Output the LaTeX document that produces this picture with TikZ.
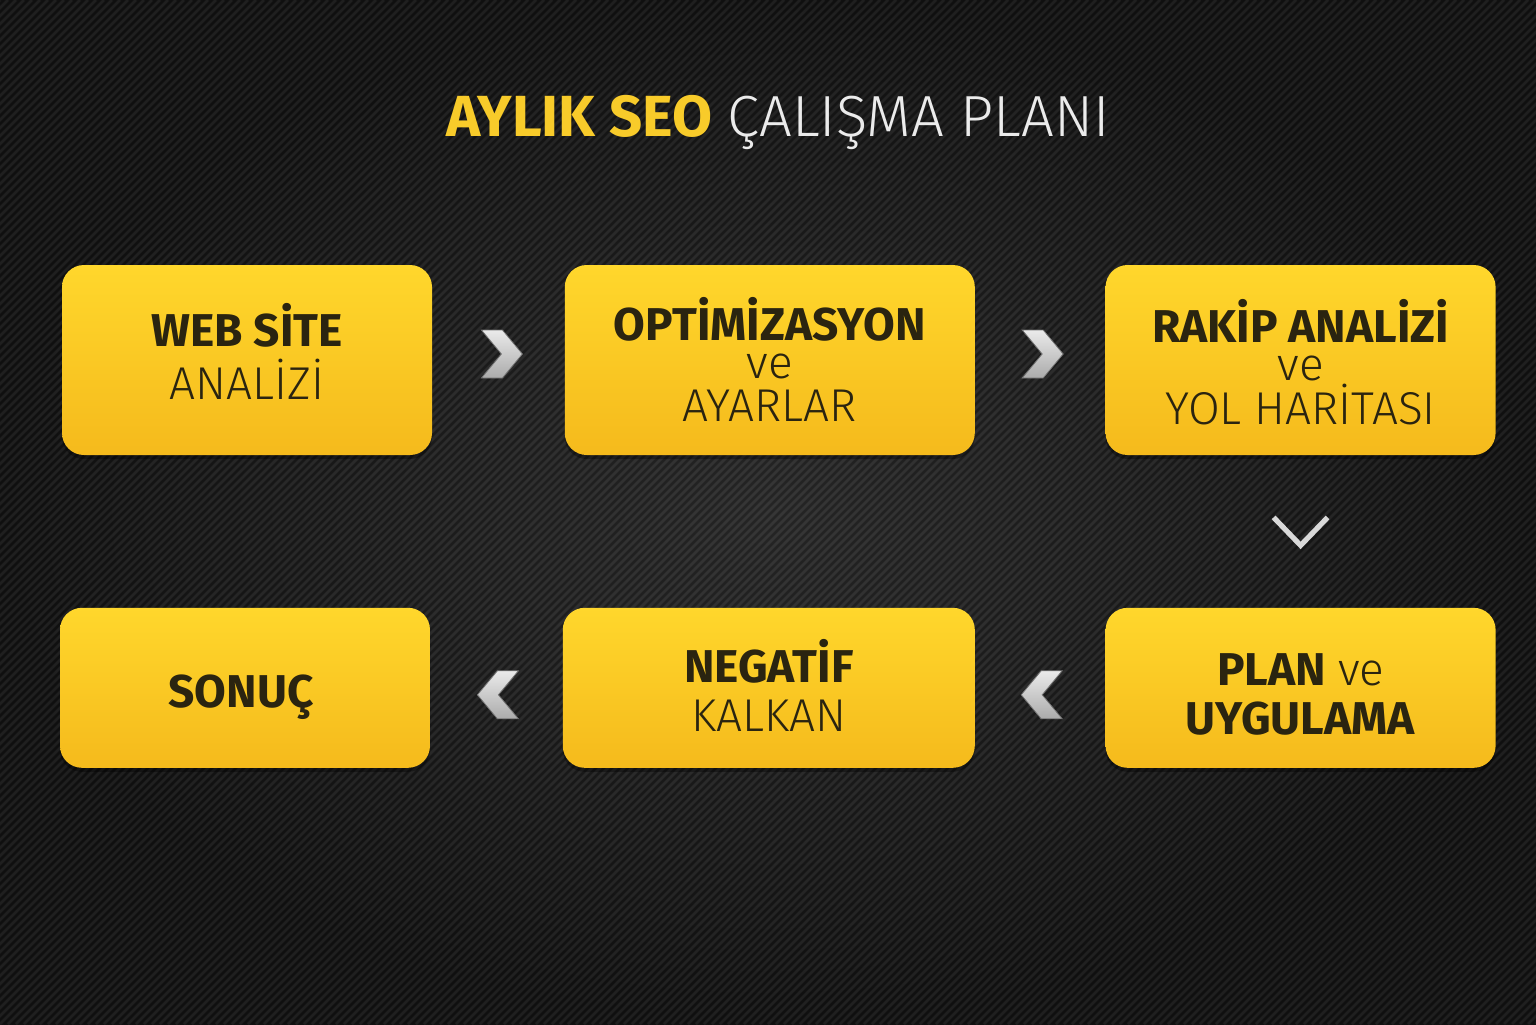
\documentclass[tikz,border=0pt]{standalone}
\usepackage{fontspec}
\setmainfont{Fira Sans}
\newfontfamily\thin{Fira Sans Light}
\usepackage{tikz}
\usetikzlibrary{positioning,shadows,calc}
\definecolor{bgdark}{HTML}{121212}
\definecolor{bgmid}{HTML}{2A2A2A}
\definecolor{boxtop}{HTML}{FFD72C}
\definecolor{boxbot}{HTML}{F5BA1C}
\definecolor{ink}{HTML}{2A2410}
\definecolor{gold}{HTML}{F8CB2A}
\definecolor{chev}{HTML}{C9C9C9}
\tikzset{stepbox/.style={rounded corners=11pt,top color=boxtop,bottom color=boxbot,inner sep=0pt,
    drop shadow={opacity=0.35,shadow xshift=0pt,shadow yshift=-2pt,fill=black}}}
\tikzset{boxtext/.style={text=ink,align=center,inner sep=0pt,
    font=\fontsize{23}{26.5}\selectfont}}
\tikzset{chevron/.pic={
    \shade[top color=white!92!black,bottom color=chev!85!black,draw=black!55,line width=0.4pt]
      (-20,-24) -- (1,-24) -- (21,0) -- (1,24) -- (-20,24) -- (0,0) -- cycle;}}
\begin{document}
\begin{tikzpicture}[x=0.5pt,y=-0.5pt,node distance=66pt]
  % background
  \shade[inner color=bgmid,outer color=bgdark] (0,0) rectangle (1536,1024);
  \begin{scope}
    \clip (0,0) rectangle (1536,1024);
    \foreach \s in {-1024,-1016,...,1536}
      \draw[white,opacity=0.06,line width=1.3pt] (\s,1024) -- (\s+1024,0);
    \foreach \s in {-1020,-1012,...,1536}
      \draw[black,opacity=0.12,line width=1pt] (\s,1024) -- (\s+1024,0);
  \end{scope}
  \useasboundingbox (0,0) rectangle (1536,1024);
  % title
  \node(title) at (778,122) {\fontsize{29}{32}\selectfont\textbf{\color{gold}AYLIK SEO} {\thin\color{white!92!black}ÇALIŞMA PLANI}};
  % boxes
  \node(web)[stepbox,minimum width=185pt,minimum height=95pt] at (247,360) {};
  \node(opt)[stepbox,right=66pt of web,minimum width=205pt,minimum height=95pt] {};
  \node(rakip)[stepbox,right=65pt of opt,minimum width=195pt,minimum height=95pt] {};
  \node(plan)[stepbox,below=76pt of rakip,minimum width=195pt,minimum height=80pt] {};
  \node(negatif)[stepbox,left=65pt of plan,minimum width=206pt,minimum height=80pt] {};
  \node(sonuc)[stepbox,left=66pt of negatif,minimum width=185pt,minimum height=80pt] {};
  % texts
  \node(webtxt)[boxtext] at ($(web)+(0,-9)$) {\textbf{WEB SİTE}\\{\thin ANALİZİ}};
  \node(opttxt)[boxtext] at ($(opt)+(0,-1)$)
    {\textbf{OPTİMİZASYON}\\[-7.5pt]{\thin ve}\\[-5pt]{\thin AYARLAR}};
  \node(rakiptxt)[boxtext] at ($(rakip)+(0,2)$)
    {\textbf{RAKİP ANALİZİ}\\[-7.5pt]{\thin ve}\\[-4.5pt]{\thin YOL HARİTASI}};
  \node(plantxt)[boxtext] at ($(plan)+(0,7)$) {\textbf{PLAN} {\thin ve}\\[-2pt]\textbf{UYGULAMA}};
  \node(negatiftxt)[boxtext] at ($(negatif)+(0,-2)$) {\textbf{NEGATİF}\\[-2pt]{\thin KALKAN}};
  \node(sonuctxt)[boxtext] at ($(sonuc)+(-4,9)$) {\textbf{SONUÇ}};
  % chevrons
  \coordinate (c1) at ($(web.east)!0.5!(opt.west)+(3,-6)$);
  \coordinate (c2) at ($(opt.east)!0.5!(rakip.west)+(2,-6)$);
  \coordinate (c3) at ($(plan.west)!0.5!(negatif.east)+(2,7)$);
  \coordinate (c4) at ($(negatif.west)!0.5!(sonuc.east)+(2,7)$);
  \coordinate (c5) at ($(rakip.south)!0.5!(plan.north)$);
  \pic at (c1) {chevron};
  \pic at (c2) {chevron};
  \pic[rotate=180] at (c3) {chevron};
  \pic[rotate=180] at (c4) {chevron};
  \draw[white!85!black,line width=2.6pt] ($(c5)+(-27,-14)$) -- ($(c5)+(0,14)$) -- ($(c5)+(27,-14)$);
\end{tikzpicture}
\end{document}
